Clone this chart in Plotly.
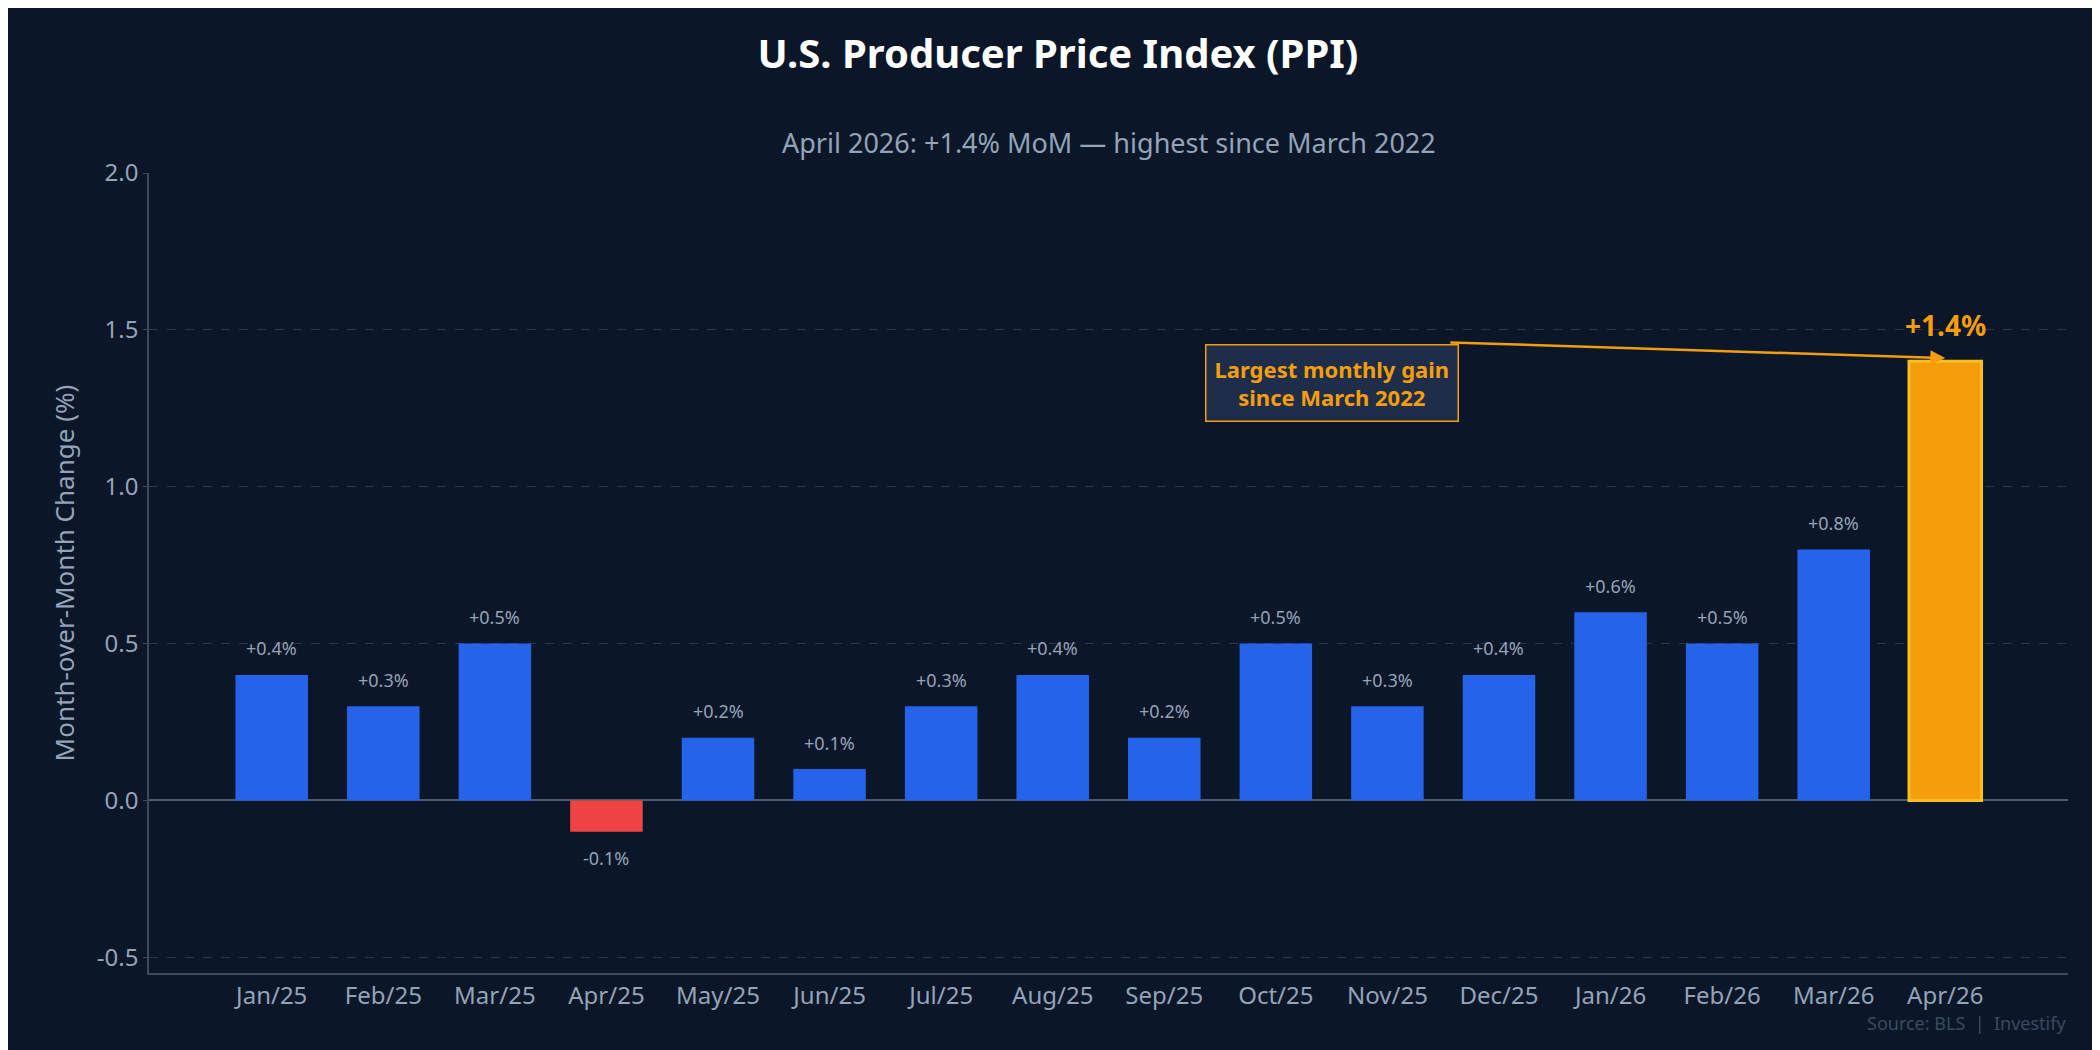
import plotly.graph_objects as go

months = ['Jan/25', 'Feb/25', 'Mar/25', 'Apr/25', 'May/25', 'Jun/25', 'Jul/25', 'Aug/25',
          'Sep/25', 'Oct/25', 'Nov/25', 'Dec/25', 'Jan/26', 'Feb/26', 'Mar/26', 'Apr/26']
mom = [0.4, 0.3, 0.5, -0.1, 0.2, 0.1, 0.3, 0.4, 0.2, 0.5, 0.3, 0.4, 0.6, 0.5, 0.8, 1.4]

bg = '#0b1628'
grey = '#94a3b8'

colors = []
for i, v in enumerate(mom):
    if i == len(mom) - 1:
        colors.append('#f59e0b')
    elif v < 0:
        colors.append('#ef4444')
    else:
        colors.append('#2563eb')
line_colors = ['#fbbf24' if i == len(mom) - 1 else 'rgba(0,0,0,0)' for i in range(len(mom))]
line_widths = [3 if i == len(mom) - 1 else 0 for i in range(len(mom))]

fig = go.Figure(go.Bar(
    x=months, y=mom, width=0.65,
    marker=dict(color=colors, line=dict(color=line_colors, width=line_widths)),
    showlegend=False,
))

annotations = []
for m, v in zip(months[:-1], mom[:-1]):
    annotations.append(dict(
        x=m, y=v + 0.04 if v >= 0 else v - 0.04, text='{:+.1f}%'.format(v),
        yanchor='bottom' if v >= 0 else 'top', showarrow=False,
        font=dict(size=18, color=grey)))
annotations.append(dict(
    x=months[-1], y=mom[-1] + 0.05, text='<b>{:+.1f}%</b>'.format(mom[-1]),
    yanchor='bottom', showarrow=False, font=dict(size=28, color='#f59e0b')))
annotations.append(dict(
    x=9.5, y=1.33, text='<b>Largest monthly gain<br>since March 2022</b>',
    showarrow=False, font=dict(size=22, color='#f59e0b'),
    bgcolor='#1e2d4a', bordercolor='#f59e0b', borderwidth=1.5, borderpad=8))
annotations.append(dict(
    x=months[-1], y=1.41, ax=10.55, ay=1.46, axref='x', ayref='y',
    text='', showarrow=True, arrowhead=2, arrowsize=1.2, arrowwidth=2.5,
    arrowcolor='#f59e0b'))
annotations.append(dict(
    x=1, y=-0.045, xref='paper', yref='paper', xanchor='right', yanchor='top',
    text='Source: BLS  |  Investify', showarrow=False,
    font=dict(size=18, color='#3b4a60')))
annotations.append(dict(
    x=0.5, y=1.0, xref='paper', yref='paper', yanchor='bottom', yshift=10,
    text='April 2026: +1.4% MoM — highest since March 2022', showarrow=False,
    font=dict(size=27, color=grey)))

fig.update_layout(
    width=2100, height=1050,
    paper_bgcolor=bg, plot_bgcolor=bg,
    font=dict(family='Noto Sans', color=grey),
    title=dict(text='<b>U.S. Producer Price Index (PPI)</b>', x=0.5, xanchor='center',
               y=0.97, font=dict(size=40, color='white')),
    margin=dict(l=141, r=40, t=165, b=85),
    bargap=0.35,
    xaxis=dict(range=[-1.1, 16.1], showgrid=False, showline=True, linecolor='#3b4a60', linewidth=1.5,
               tickfont=dict(size=24, color=grey), ticks='', zeroline=False),
    yaxis=dict(range=[-0.55, 2.0], tickvals=[-0.5, 0, 0.5, 1.0, 1.5, 2.0],
               ticktext=['-0.5', '0.0', '0.5', '1.0', '1.5', '2.0'],
               showgrid=True, gridcolor='#283650', griddash='dash', gridwidth=1,
               zeroline=True, zerolinecolor='#4b5a70', zerolinewidth=2,
               showline=True, linecolor='#3b4a60', linewidth=1.5,
               tickfont=dict(size=24, color=grey), ticks='outside', ticklen=4, tickcolor='#3b4a60',
               title=dict(text='Month-over-Month Change (%)', font=dict(size=26, color=grey))),
    annotations=annotations,
)

fig.write_html('out.html')
